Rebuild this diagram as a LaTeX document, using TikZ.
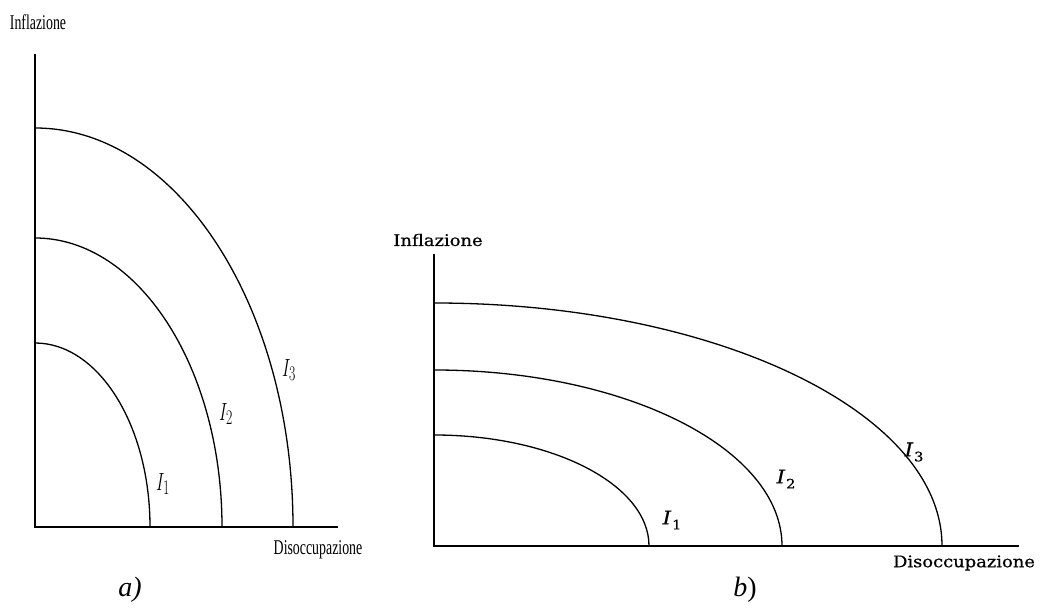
\documentclass[tikz,border=0pt]{standalone}
\usepackage{fontspec}
\setmainfont{Liberation Serif}
\newfontfamily\wideserif[FakeBold=0.6]{DejaVu Serif}
\usetikzlibrary{positioning}

% condensed labels (panel a) and wide labels (panel b)
\newcommand{\narrowlab}[2]{\scalebox{0.66}[1]{\fontsize{#1}{#1}\selectfont #2}}
\newcommand{\widelab}[2]{\scalebox{1.12}[1]{\wideserif\fontsize{#1}{#1}\selectfont #2}}

\begin{document}
\begin{tikzpicture}[x=1pt, y=1pt,
  axis/.style={line width=1.3pt, line cap=rect},
  curve/.style={line width=1.3pt},
  lab/.style={inner sep=0pt, anchor=center}
]
  \useasboundingbox (0,0) rectangle (1046,610);

  % ---- panel a)
  \coordinate (oa) at (35,83);
  \draw[axis] (35,555) -- (oa) -- (337,83);
  \draw[curve] (35,267) arc[start angle=90, end angle=0, x radius=115pt, y radius=184pt];
  \draw[curve] (35,372) arc[start angle=90, end angle=0, x radius=187pt, y radius=289pt];
  \draw[curve] (35,482) arc[start angle=90, end angle=0, x radius=258pt, y radius=399pt];
  \node[lab] (infa) at (38,588) {\narrowlab{21}{Inflazione}};
  \node[lab] (disa) at (318,60) {\narrowlab{21}{Disoccupazione}};
  \node[lab] (ia1) at (163,126) {\narrowlab{32}{$I_1$}};
  \node[lab] (ia2) at (226,196) {\narrowlab{32}{$I_2$}};
  \node[lab] (ia3) at (289,240) {\narrowlab{32}{$I_3$}};
  \node[lab] (capa) at (130,20) {\fontsize{28}{28}\selectfont\itshape a)};

  % ---- panel b)
  \coordinate (ob) at (434,64);
  \draw[axis] (434,355) -- (ob) -- (1018,64);
  \draw[curve] (434,175) arc[start angle=90, end angle=0, x radius=215pt, y radius=111pt];
  \draw[curve] (434,240) arc[start angle=90, end angle=0, x radius=348pt, y radius=176pt];
  \draw[curve] (434,307) arc[start angle=90, end angle=0, x radius=508pt, y radius=243pt];
  \node[lab] (infb) at (438,370) {\widelab{16}{Inflazione}};
  \node[lab] (disb) at (964,47) {\widelab{16}{Disoccupazione}};
  \node[lab] (ib1) at (672,90) {\widelab{19}{\itshape I\kern1pt\raisebox{-5pt}{\fontsize{13}{13}\selectfont\upshape 1}}};
  \node[lab] (ib2) at (786,131) {\widelab{19}{\itshape I\kern1pt\raisebox{-5pt}{\fontsize{13}{13}\selectfont\upshape 2}}};
  \node[lab] (ib3) at (914,158) {\widelab{19}{\itshape I\kern1pt\raisebox{-5pt}{\fontsize{13}{13}\selectfont\upshape 3}}};
  \node[lab] (capb) at (745,20) {\fontsize{28}{28}\selectfont\textit{b})};
\end{tikzpicture}
\end{document}
